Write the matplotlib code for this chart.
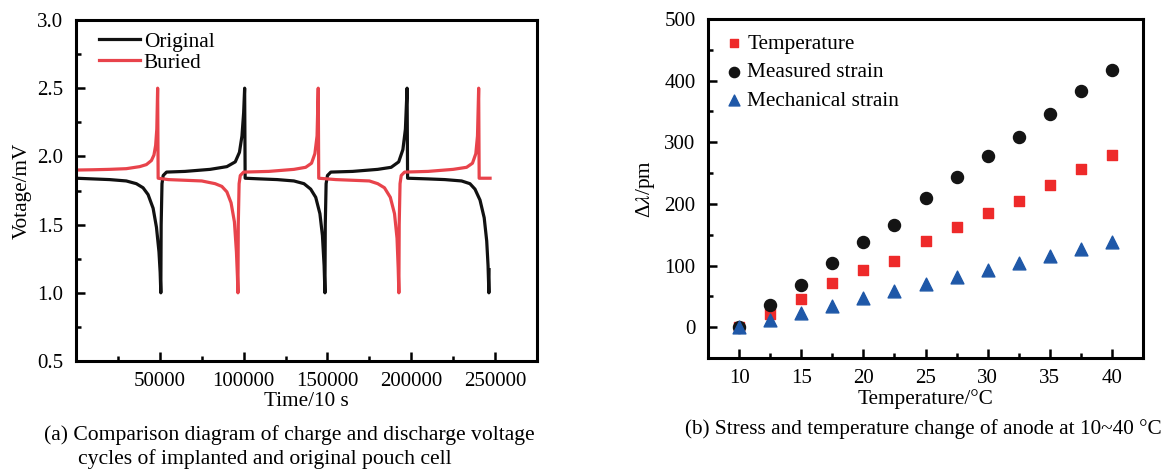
import matplotlib
matplotlib.use("Agg")
import matplotlib.pyplot as plt
from matplotlib.ticker import MultipleLocator

plt.rcParams['font.family'] = ['Liberation Serif', 'DejaVu Serif']
plt.rcParams['mathtext.fontset'] = 'stix'

# ---------------- Panel (a) data: key points ----------------
orig_t = [0, 10000, 20000, 30000, 36000, 40000, 43000, 46000, 48000, 49500, 50200, 50600,
          50800, 51300, 52000, 54000, 65000, 80000, 90000, 95000, 97500, 99000, 100000, 100600,
          100900, 110000, 120000, 130000, 136000, 140000, 143000, 145500, 147000, 148000, 148500,
          148700, 149200, 150000, 152000, 165000, 180000, 188000, 192500, 195000, 196500, 197500,
          197800, 210000, 220000, 230000, 235000, 238000, 241000, 243500, 245000, 245800, 246300,
          246400]
orig_v = [1.84, 1.835, 1.83, 1.82, 1.80, 1.77, 1.72, 1.62, 1.48, 1.30, 1.15, 1.00,
          1.50, 1.80, 1.86, 1.885, 1.89, 1.905, 1.925, 1.96, 2.03, 2.15, 2.32, 2.50,
          1.84, 1.835, 1.83, 1.82, 1.80, 1.76, 1.70, 1.58, 1.42, 1.20, 1.00,
          1.50, 1.80, 1.86, 1.885, 1.89, 1.905, 1.92, 1.96, 2.05, 2.20, 2.50,
          1.84, 1.835, 1.83, 1.82, 1.80, 1.76, 1.68, 1.55, 1.38, 1.20, 1.00,
          1.17]

buried_t = [0, 10000, 20000, 30000, 38000, 42000, 45000, 46500, 47500, 48200, 48700,
            49000, 55000, 65000, 75000, 83000, 87000, 90000, 92500, 94500, 95700, 96300, 96600,
            96800, 97300, 98000, 100000, 115000, 130000, 137000, 140500, 142500, 143800, 144500,
            144800, 155000, 165000, 175000, 180000, 184000, 187500, 190000, 191500, 192200, 192600,
            192800, 193300, 194000, 196000, 210000, 225000, 233000, 236500, 238500, 239500, 240200,
            240500, 247000]
buried_v = [1.90, 1.902, 1.905, 1.91, 1.925, 1.94, 1.97, 2.01, 2.08, 2.20, 2.50,
            1.84, 1.83, 1.825, 1.82, 1.80, 1.78, 1.74, 1.66, 1.52, 1.30, 1.12, 1.00,
            1.50, 1.80, 1.86, 1.885, 1.89, 1.905, 1.92, 1.95, 2.02, 2.15, 2.50,
            1.84, 1.83, 1.825, 1.82, 1.80, 1.77, 1.70, 1.58, 1.40, 1.18, 1.00,
            1.50, 1.80, 1.86, 1.885, 1.89, 1.905, 1.92, 1.95, 2.02, 2.15, 2.50,
            1.84, 1.84]

# ---------------- Panel (b) data ----------------
temps = [10, 12.5, 15, 17.5, 20, 22.5, 25, 27.5, 30, 32.5, 35, 37.5, 40]
temperature_shift = [0, 22, 46, 71, 93, 107, 140, 163, 186, 205, 231, 257, 279]
measured_strain = [0, 36, 69, 104, 139, 165, 209, 244, 278, 309, 346, 383, 417]
mechanical_strain = [0, 12, 23, 35, 47, 58, 70, 81, 92, 104, 116, 127, 139]

W, H = 1167, 471
fig = plt.figure(figsize=(W / 100, H / 100), dpi=100)

FS = 15
FL = 15.3
FC = 15.6
SPINE = 2.2

def style(ax):
    for s in ax.spines.values():
        s.set_linewidth(SPINE)
    ax.tick_params(which='both', direction='in', labelsize=FS, width=1.8)
    ax.tick_params(which='major', length=6.5)
    ax.tick_params(which='minor', length=3.5)
    ax.tick_params(axis='x', which='both', pad=8)
    ax.tick_params(axis='y', which='both', pad=9)

# Panel (a)
ax1 = fig.add_axes([76 / W, 1 - 361 / H, (537 - 76) / W, (361 - 20) / H])
ax1.plot(orig_t, orig_v, color='#111111', lw=2.3, label='Original')
ax1.plot(buried_t, buried_v, color='#e8434b', lw=2.3, label='Buried')
ax1.set_xlim(0, 275000)
ax1.set_ylim(0.5, 3.0)
ax1.set_xticks([50000, 100000, 150000, 200000, 250000])
ax1.xaxis.set_minor_locator(MultipleLocator(25000))
ax1.yaxis.set_major_locator(MultipleLocator(0.5))
ax1.yaxis.set_minor_locator(MultipleLocator(0.25))
style(ax1)
ax1.set_xlabel('Time/10 s', fontsize=FL, labelpad=1)
ax1.set_ylabel('Votage/mV', fontsize=FL, labelpad=4)
ax1.legend(loc='upper left', frameon=False, fontsize=FL, handlelength=1.9,
           handletextpad=0.2, labelspacing=0.05, borderaxespad=0.15,
           bbox_to_anchor=(0.025, 1.0))

# Panel (b)
ax2 = fig.add_axes([708 / W, 1 - 358 / H, (1143 - 708) / W, (358 - 19) / H])
ax2.scatter(temps, temperature_shift, marker='s', s=55, color='#ee2a2a', label='Temperature', zorder=3)
ax2.scatter(temps, measured_strain, marker='o', s=75, color='#141414', label='Measured strain', zorder=3)
ax2.scatter(temps, mechanical_strain, marker='^', s=85, color='#1f58a8', label='Mechanical strain', zorder=4)
ax2.set_xlim(7.5, 42.5)
ax2.set_ylim(-50, 500)
ax2.xaxis.set_major_locator(MultipleLocator(5))
ax2.xaxis.set_minor_locator(MultipleLocator(2.5))
ax2.yaxis.set_major_locator(MultipleLocator(100))
ax2.yaxis.set_minor_locator(MultipleLocator(50))
style(ax2)
ax2.set_xlabel('Temperature/°C', fontsize=FL, labelpad=1)
ax2.set_ylabel('Δ$\\mathit{\\lambda}$/pm', fontsize=FL, labelpad=5)
ax2.legend(loc='upper left', frameon=False, fontsize=FL, handletextpad=0.15,
           handlelength=1.0, labelspacing=0.4, borderaxespad=0.3, markerscale=0.85,
           bbox_to_anchor=(0.0, 1.0))

# Captions
fig.text(44 / W, 1 - 435 / H, '(a) Comparison diagram of charge and discharge voltage',
         fontsize=FC, ha='left', va='center')
fig.text(78 / W, 1 - 459 / H, 'cycles of implanted and original pouch cell',
         fontsize=FC, ha='left', va='center')
fig.text(923 / W, 1 - 429 / H, '(b) Stress and temperature change of anode at 10~40 °C',
         fontsize=FL, ha='center', va='center')

fig.savefig('out.png', dpi=100)
